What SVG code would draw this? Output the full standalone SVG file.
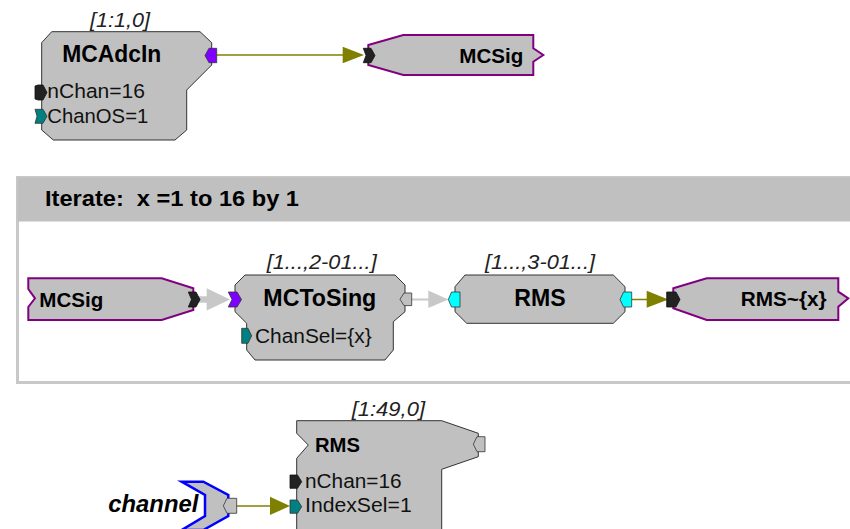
<svg xmlns="http://www.w3.org/2000/svg" width="850" height="529" viewBox="0 0 850 529">
<style>
text{font-family:"Liberation Sans",Arial,sans-serif;fill:#000;}
.t{font-weight:bold;}
.lbl{font-size:20.5px;fill:#111;}
.idx{font-size:20px;font-style:italic;fill:#222;}
.node{fill:#c0c0c0;stroke:#333;stroke-width:1;}
.io{fill:#c0c0c0;stroke:#800080;stroke-width:2;}
.pv{fill:#8000ff;stroke:#333;stroke-width:0.8;}
.pk{fill:#222;stroke:#111;stroke-width:0.8;}
.pt{fill:#008080;stroke:#333;stroke-width:0.8;}
.pc{fill:#00ffff;stroke:#333;stroke-width:0.8;}
.pg{fill:#c0c0c0;stroke:#333;stroke-width:0.8;}
.ol{stroke:#808000;stroke-width:1.5;fill:none;}
.olh{fill:#808000;}
.gr{stroke:#c8c8c8;fill:none;}
.grh{fill:#c8c8c8;}
</style>

<g id="iterate">
<rect x="17.5" y="177.5" width="845" height="205" fill="#fff" stroke="#c8c8c8" stroke-width="3"/>
<rect x="17.5" y="177.5" width="845" height="44" fill="#c0c0c0"/>
<text x="45" y="206" class="t" font-size="22" style="white-space:pre" textLength="254" lengthAdjust="spacingAndGlyphs">Iterate:  x =1 to 16 by 1</text>
</g>

<g id="connectors">
<line x1="216.5" y1="55" x2="344" y2="55" class="ol"/>
<polygon points="342.7,46.7 342.7,63.3 364,55" class="olh"/>
<line x1="199" y1="299.5" x2="208" y2="299.5" class="gr" stroke-width="6.5"/>
<polygon points="206.7,288.3 206.7,310.5 230,299.5" class="grh"/>
<line x1="411.7" y1="299.5" x2="429" y2="299.5" class="gr" stroke-width="2"/>
<polygon points="428.3,290.5 428.3,308 448.3,299.5" class="grh"/>
<line x1="631.7" y1="299.5" x2="648" y2="299.5" class="ol"/>
<polygon points="646.7,290.7 646.7,307.8 668.3,299.5" class="olh"/>
<line x1="236" y1="506" x2="271" y2="506" class="ol"/>
<polygon points="270,496.7 270,515 290,506" class="olh"/>
</g>

<g id="MCAdcIn">
<polygon class="node" points="51.7,31.7 200,31.7 211.7,42.7 211.7,65 186.7,90 186.7,130 175,140 53.3,140 41.7,130 41.7,42.7"/>
<text x="90" y="26.5" class="idx" textLength="60" lengthAdjust="spacingAndGlyphs">[1:1,0]</text>
<text x="62.3" y="62.3" class="t" font-size="24" textLength="99" lengthAdjust="spacingAndGlyphs">MCAdcIn</text>
<text x="47.3" y="98" class="lbl" textLength="97.7" lengthAdjust="spacingAndGlyphs">nChan=16</text>
<text x="47.3" y="123.3" class="lbl" textLength="101" lengthAdjust="spacingAndGlyphs">ChanOS=1</text>
<polygon class="pv" points="205,55.5 209,48.3 216.7,48.3 216.7,62.7 209,62.7"/>
<polygon class="pk" points="35,86 38,85 43,85 47,92.5 43,100 38,100 35,99"/>
<polygon class="pt" points="35,109.3 43,109.3 47,116.3 43,123.3 35,123.3 37,116.3"/>
</g>

<g id="MCSig-out">
<polygon class="io" points="368.3,45 403.3,35 533.3,35 533.3,48.3 543.3,55 533.3,61.7 533.3,75 403.3,75 368.3,65"/>
<polygon class="pk" points="363.3,48.3 371,48.3 375,55.5 371,62.7 363.3,62.7 366,55.5"/>
<text x="459.3" y="62.7" class="t" font-size="21" textLength="64" lengthAdjust="spacingAndGlyphs">MCSig</text>
</g>

<g id="MCSig-in">
<polygon class="io" points="28.3,278.3 161.7,278.3 193.3,288.3 193.3,310 161.7,320 28.3,320 28.3,307 35,298.3 28.3,289"/>
<polygon class="pk" points="188.3,292 196,292 200,299.5 196,307 188.3,307 191.5,299.5"/>
<text x="39.3" y="306.7" class="t" font-size="21" textLength="64" lengthAdjust="spacingAndGlyphs">MCSig</text>
</g>

<g id="MCToSing">
<polygon class="node" points="245,275 395,275 405,285 405,311.7 393.3,321.7 393.3,350 385,360 255,360 246.7,350 246.7,323.3 235,311.7 235,285"/>
<text x="266.7" y="269" class="idx" font-size="19" textLength="110" lengthAdjust="spacingAndGlyphs">[1...,2-01...]</text>
<text x="263.3" y="305.5" class="t" font-size="24" textLength="113" lengthAdjust="spacingAndGlyphs">MCToSing</text>
<text x="255" y="343" class="lbl" textLength="116.7" lengthAdjust="spacingAndGlyphs">ChanSel={x}</text>
<polygon class="pv" points="228.3,292 237,292 241.5,299.5 237,307 228.3,307 232,299.5"/>
<polygon class="pg" points="400,299.3 404,293 411.7,293 411.7,305.6 404,305.6"/>
<polygon class="pt" points="241.7,328.3 248,328.3 251.7,335.8 248,343.3 241.7,343.3"/>
</g>

<g id="RMS-iter">
<polygon class="node" points="465,275 613.3,275 625,286.7 625,311.7 613.3,323.3 466.7,323.3 455,311.7 455,286.7"/>
<text x="485" y="269" class="idx" font-size="19" textLength="110" lengthAdjust="spacingAndGlyphs">[1...,3-01...]</text>
<text x="514.3" y="306" class="t" font-size="24" textLength="51.3" lengthAdjust="spacingAndGlyphs">RMS</text>
<polygon class="pc" points="448.3,299.5 451.5,292 460,292 460,307 451.5,307"/>
<polygon class="pc" points="620,299.5 623.5,292 631.7,292 631.7,307 623.5,307"/>
</g>

<g id="RMS-x">
<polygon class="io" points="673.3,288.3 706.7,278.3 838.3,278.3 838.3,291.7 848.3,298.3 838.3,306.7 838.3,320 706.7,320 673.3,308.3"/>
<polygon class="pk" points="666.7,292 676,292 680,299.5 676,307 666.7,307"/>
<text x="740.7" y="306" class="t" font-size="20" textLength="86" lengthAdjust="spacingAndGlyphs">RMS~{x}</text>
</g>

<g id="RMS-bottom">
<polygon class="node" points="296.7,420.7 441.7,420.7 478.3,433.3 478.3,456.7 441.7,469.3 441.7,540 296.7,540 296.7,458.3 308.3,445 296.7,433.3"/>
<text x="351.7" y="415.5" class="idx" textLength="73.3" lengthAdjust="spacingAndGlyphs">[1:49,0]</text>
<text x="315" y="451.7" class="t" font-size="21" textLength="45" lengthAdjust="spacingAndGlyphs">RMS</text>
<text x="305" y="488" class="lbl" textLength="96.7" lengthAdjust="spacingAndGlyphs">nChan=16</text>
<text x="305" y="512" class="lbl" textLength="106.7" lengthAdjust="spacingAndGlyphs">IndexSel=1</text>
<polygon class="pg" points="473.3,444.2 477,436.7 485,436.7 485,451.7 477,451.7"/>
<polygon class="pk" points="290,475 297.5,475 301.7,481.7 297.5,488.3 290,488.3"/>
<polygon class="pt" points="290,500 297.5,500 301.7,506.7 297.5,513.3 290,513.3"/>
</g>

<g id="channel">
<polygon points="181.7,481.7 203.3,481.7 228.3,495 228.3,516 203.3,530 181.7,530 205,516 205,495" fill="#c0c0c0" stroke="#0000ff" stroke-width="2.5"/>
<polygon class="pg" points="223.3,505.8 227,498.3 236.7,498.3 236.7,513.3 227,513.3"/>
<text x="108.3" y="511.7" class="t" font-style="italic" font-size="24" textLength="90" lengthAdjust="spacingAndGlyphs">channel</text>
</g>
</svg>
